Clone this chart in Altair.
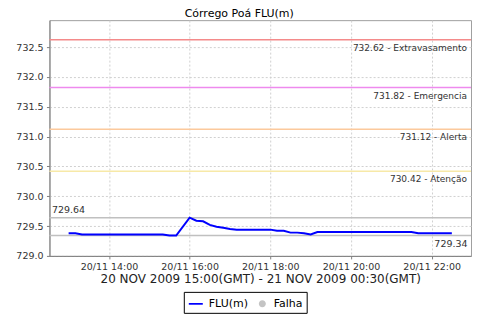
import altair as alt
import pandas as pd

# ---- data ----
times = ["13:00", "13:10", "13:20", "13:30", "13:40", "13:50", "14:00", "14:10", "14:20",
         "14:30", "14:40", "14:50", "15:00", "15:10", "15:20", "15:30", "15:40",
         "16:00", "16:10", "16:20", "16:30", "16:40", "16:50", "17:00", "17:10", "17:20",
         "17:30", "17:40", "17:50", "18:00", "18:10", "18:20", "18:30", "18:40", "18:50",
         "19:00", "19:10", "19:20", "19:30", "19:40", "19:50", "20:00", "20:10", "20:20",
         "20:30", "20:40", "20:50", "21:00", "21:10", "21:20", "21:30", "21:40", "21:50",
         "22:00", "22:10", "22:20", "22:30"]
flu = [729.38, 729.38, 729.36, 729.36, 729.36, 729.36, 729.36, 729.36, 729.36,
       729.36, 729.36, 729.36, 729.36, 729.36, 729.36, 729.34, 729.34,
       729.64, 729.59, 729.58, 729.52, 729.49, 729.47, 729.45, 729.44, 729.44,
       729.44, 729.44, 729.44, 729.44, 729.42, 729.42, 729.39, 729.39, 729.38,
       729.36, 729.40, 729.40, 729.40, 729.40, 729.40, 729.40, 729.40, 729.40,
       729.40, 729.40, 729.40, 729.40, 729.40, 729.40, 729.40, 729.38, 729.38,
       729.38, 729.38, 729.38, 729.38]

thr_values = [732.62, 731.82, 731.12, 730.42]
thr_names = ["Extravasamento", "Emergencia", "Alerta", "Atenção"]
thr_colors = ["#f48a8a", "#ee8aee", "#fcc99c", "#f7e9a8"]

legend_names = ["FLU(m)", "Falha"]
legend_colors = ["#0000ff", "#c4c4c4"]
legend_shapes = ["M-0.875,-0.11H0.875V0.11H-0.875Z",
                 "M0.64,0A0.44,0.44 0 1,1 -0.24,0A0.44,0.44 0 1,1 0.64,0Z"]

y_ticks = [729.0, 729.5, 730.0, 730.5, 731.0, 731.5, 732.0, 732.5]
x_tick_hours = [14, 16, 18, 20, 22]

title_text = "Córrego Poá FLU(m)"
x_title = "20 NOV 2009 15:00(GMT) - 21 NOV 2009 00:30(GMT)"

# ---- tables ----
df = pd.DataFrame({
    "t": ["2009-11-20T" + s + ":00" for s in times],
    "v": flu,
    "series": "FLU(m)",
})
thr = pd.DataFrame({
    "v": thr_values,
    "name": thr_names,
    "label": [f"{v:.2f} - {n}" for v, n in zip(thr_values, thr_names)],
})
mm = pd.DataFrame({
    "v": [max(flu), min(flu)],
    "label": [f"{max(flu):.2f}", f"{min(flu):.2f}"],
    "kind": ["max", "min"],
})

FONT = "DejaVu Sans"
W, H = 422, 236

x_scale = alt.Scale(domain=[alt.DateTime(year=2009, month=11, date=20, hours=12, minutes=31, seconds=30),
                            alt.DateTime(year=2009, month=11, date=20, hours=22, minutes=58, seconds=30)])
y_scale = alt.Scale(domain=[729.0, 732.95], nice=False, zero=False)

x_enc = alt.X("t:T", scale=x_scale,
              axis=alt.Axis(values=[alt.DateTime(year=2009, month=11, date=20, hours=h) for h in x_tick_hours],
                            format="%d/%m %H:%M", title=x_title, labelFlush=False,
                            labelOverlap=False))
y_enc = alt.Y("v:Q", scale=y_scale,
              axis=alt.Axis(values=y_ticks, format=".1f", title=None, labelOverlap=False))

leg = dict(title=None, orient="none", legendX=134.5, legendY=272,
           direction="horizontal", columns=2, strokeColor="black",
           padding=4, symbolSize=256, symbolOpacity=1,
           symbolStrokeWidth=0, labelFontSize=11, labelFont=FONT,
           labelColor="black", labelOffset=5, columnPadding=4, fillColor="white")

base = alt.Chart(df)

line = base.mark_line(color="#0000ff", strokeWidth=2).encode(x=x_enc, y=y_enc)

legend_pts = base.mark_point(filled=True, opacity=0, size=20).encode(
    x=x_enc, y=y_enc,
    fill=alt.Fill("series:N", scale=alt.Scale(domain=legend_names, range=legend_colors),
                  legend=alt.Legend(**leg)),
    shape=alt.Shape("series:N", scale=alt.Scale(domain=legend_names, range=legend_shapes),
                    legend=alt.Legend(**leg)),
)

thr_rules = alt.Chart(thr).mark_rule(strokeWidth=1.5).encode(
    y=y_enc,
    stroke=alt.Stroke("name:N", scale=alt.Scale(domain=thr_names, range=thr_colors), legend=None),
)
thr_text = alt.Chart(thr).mark_text(align="right", baseline="middle", dy=8, fontSize=9,
                                    font=FONT, color="#333333").encode(
    y=y_enc, x=alt.value(W - 4), text="label:N")

mm_rules = alt.Chart(mm).mark_rule(color="#c0c0c0", strokeWidth=1.5).encode(y=y_enc)
max_text = alt.Chart(mm).transform_filter(alt.datum.kind == "max").mark_text(
    align="left", baseline="middle", dy=-8, fontSize=9.5, font=FONT, color="#333333").encode(
    y=y_enc, x=alt.value(2.5), text="label:N")
min_text = alt.Chart(mm).transform_filter(alt.datum.kind == "min").mark_text(
    align="right", baseline="middle", dy=8, fontSize=9.5, font=FONT, color="#333333").encode(
    y=y_enc, x=alt.value(W - 3.5), text="label:N")

chart = alt.layer(thr_rules, mm_rules, thr_text, max_text, min_text, line, legend_pts).properties(
    width=W, height=H,
    title=alt.TitleParams(title_text, fontSize=11, fontWeight="normal", color="black",
                          font=FONT, offset=1, dx=-21, anchor="middle"),
    autosize=alt.AutoSizeParams(type="none"),
    padding={"left": 41.5, "top": 12, "right": 1, "bottom": 62},
).configure(font=FONT).configure_view(stroke="#a0a0a0", strokeWidth=1).configure_axis(
    labelFont=FONT, labelFontSize=9.5, labelColor="#333333",
    tickSize=3, tickColor="#808080", domainColor="#808080",
    grid=True, gridDash=[2, 2], gridColor="#d0d0d0",
    titleFont=FONT, titleFontSize=12, titleFontWeight="normal", titleColor="#222222",
).configure_axisX(labelPadding=3, titlePadding=2).configure_axisY(labelPadding=3.5)

chart.save("out.html", embed_options={"renderer": "svg", "actions": False})
